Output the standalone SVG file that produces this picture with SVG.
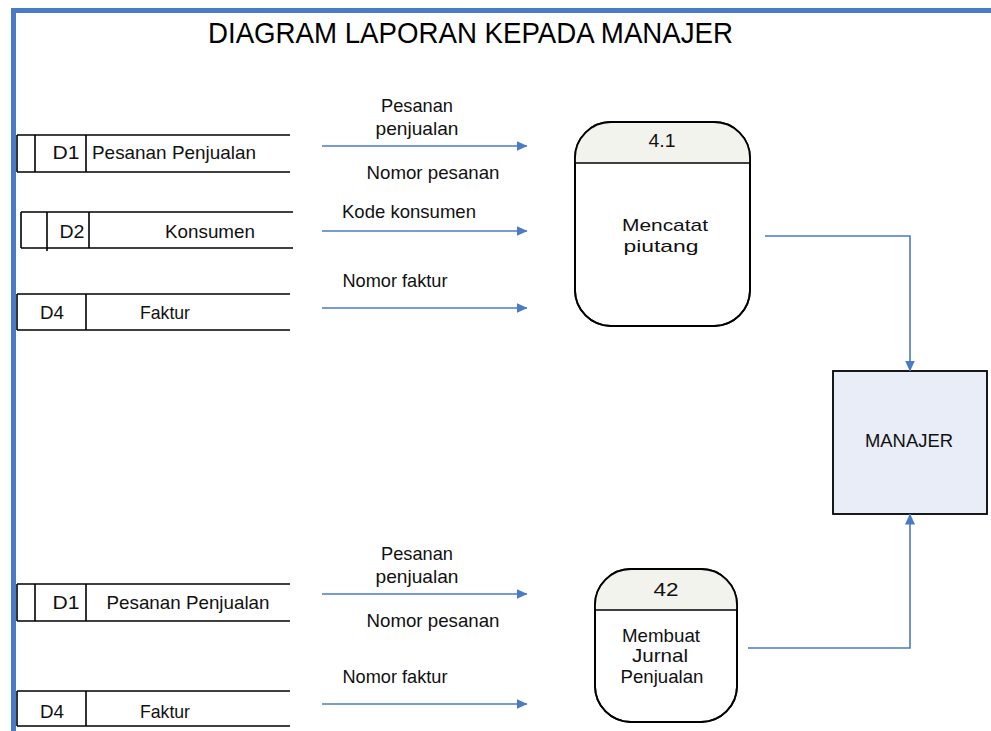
<svg xmlns="http://www.w3.org/2000/svg" width="991" height="731" viewBox="0 0 991 731">
  <style>
    .lbl { font-family: "Liberation Sans", Arial, sans-serif; font-size: 19px; fill: #111; }
    .sm { font-size: 17px; }
    .mid { text-anchor: middle; }
    .title { font-family: "Liberation Sans", Arial, sans-serif; font-size: 30px; fill: #000; }
    .store line { stroke: #000; stroke-width: 1.6; }
    .proc { fill: #fff; stroke: #000; stroke-width: 1.8; }
    .head { fill: #f3f3ee; }
    .flow { fill: none; stroke: #4a7bc6; stroke-width: 1.6; marker-end: url(#arrow); }
    .frame { fill: none; stroke: #4a7bc6; stroke-width: 5; }
  </style>
  <defs>
    <marker id="arrow" markerUnits="userSpaceOnUse" markerWidth="11" markerHeight="10" refX="10.5" refY="5" orient="auto">
      <path d="M0,0 L11,5 L0,10 Z" fill="#4a7bc6"/>
    </marker>
    <clipPath id="clip41"><rect x="575" y="122" width="175" height="204" rx="36" ry="36"/></clipPath>
    <clipPath id="clip42"><rect x="595" y="569" width="142" height="153" rx="36" ry="36"/></clipPath>
  </defs>

  <rect width="991" height="731" fill="#fff"/>

  <!-- page frame -->
  <path class="frame" d="M13.5,731 L13.5,10.5 L991,10.5"/>

  <text class="title" x="208" y="43" textLength="525" lengthAdjust="spacingAndGlyphs">DIAGRAM LAPORAN KEPADA MANAJER</text>

  <!-- data stores -->
  <g id="store-d1-a" class="store">
    <line x1="17" y1="135" x2="290" y2="135"/>
    <line x1="17" y1="172" x2="290" y2="172"/>
    <line x1="17" y1="135" x2="17" y2="172"/>
    <line x1="35" y1="135" x2="35" y2="172"/>
    <line x1="86" y1="135" x2="86" y2="172"/>
    <text class="lbl mid" x="66" y="159" textLength="27" lengthAdjust="spacingAndGlyphs">D1</text>
    <text class="lbl mid" x="174" y="159" textLength="164" lengthAdjust="spacingAndGlyphs">Pesanan Penjualan</text>
  </g>

  <g id="store-d2" class="store">
    <line x1="21" y1="212" x2="293" y2="212"/>
    <line x1="21" y1="248" x2="293" y2="248"/>
    <line x1="21" y1="212" x2="21" y2="248"/>
    <line x1="47" y1="212" x2="47" y2="251"/>
    <line x1="89" y1="212" x2="89" y2="248"/>
    <text class="lbl mid" x="72" y="238" textLength="25" lengthAdjust="spacingAndGlyphs">D2</text>
    <text class="lbl mid" x="210" y="238" textLength="90" lengthAdjust="spacingAndGlyphs">Konsumen</text>
  </g>

  <g id="store-d4-a" class="store">
    <line x1="17" y1="294" x2="290" y2="294"/>
    <line x1="17" y1="330" x2="290" y2="330"/>
    <line x1="17" y1="294" x2="17" y2="330"/>
    <line x1="86" y1="294" x2="86" y2="330"/>
    <text class="lbl mid" x="52" y="319" textLength="24" lengthAdjust="spacingAndGlyphs">D4</text>
    <text class="lbl mid" x="165" y="319" textLength="50" lengthAdjust="spacingAndGlyphs">Faktur</text>
  </g>

  <g id="store-d1-b" class="store">
    <line x1="17" y1="584" x2="290" y2="584"/>
    <line x1="17" y1="621" x2="290" y2="621"/>
    <line x1="17" y1="584" x2="17" y2="621"/>
    <line x1="35" y1="584" x2="35" y2="621"/>
    <line x1="86" y1="584" x2="86" y2="621"/>
    <text class="lbl mid" x="66" y="609" textLength="27" lengthAdjust="spacingAndGlyphs">D1</text>
    <text class="lbl mid" x="188" y="609" textLength="163" lengthAdjust="spacingAndGlyphs">Pesanan Penjualan</text>
  </g>

  <g id="store-d4-b" class="store">
    <line x1="17" y1="691" x2="290" y2="691"/>
    <line x1="17" y1="726" x2="290" y2="726"/>
    <line x1="17" y1="691" x2="17" y2="726"/>
    <line x1="86" y1="691" x2="86" y2="726"/>
    <text class="lbl mid" x="52" y="718" textLength="24" lengthAdjust="spacingAndGlyphs">D4</text>
    <text class="lbl mid" x="165" y="718" textLength="50" lengthAdjust="spacingAndGlyphs">Faktur</text>
  </g>

  <!-- processes -->
  <g id="proc-4-1">
    <rect class="proc" x="575" y="122" width="175" height="204" rx="36" ry="36"/>
    <rect class="head" x="575" y="122" width="175" height="41" clip-path="url(#clip41)"/>
    <rect x="575" y="122" width="175" height="204" rx="36" ry="36" fill="none" stroke="#000" stroke-width="1.8"/>
    <line x1="575" y1="163" x2="750" y2="163" stroke="#000" stroke-width="1.6"/>
    <text class="lbl mid" x="662" y="147" textLength="27" lengthAdjust="spacingAndGlyphs">4.1</text>
    <text class="lbl sm mid" x="665" y="231" textLength="86" lengthAdjust="spacingAndGlyphs">Mencatat</text>
    <text class="lbl sm mid" x="661" y="252" textLength="75" lengthAdjust="spacingAndGlyphs">piutang</text>
  </g>

  <g id="proc-4-2">
    <rect class="proc" x="595" y="569" width="142" height="153" rx="36" ry="36"/>
    <rect class="head" x="595" y="569" width="142" height="41" clip-path="url(#clip42)"/>
    <rect x="595" y="569" width="142" height="153" rx="36" ry="36" fill="none" stroke="#000" stroke-width="1.8"/>
    <line x1="595" y1="610" x2="737" y2="610" stroke="#000" stroke-width="1.6"/>
    <text class="lbl mid" x="666" y="596" textLength="25" lengthAdjust="spacingAndGlyphs">42</text>
    <text class="lbl mid" x="661" y="642" textLength="78" lengthAdjust="spacingAndGlyphs">Membuat</text>
    <text class="lbl mid" x="660" y="662" textLength="56" lengthAdjust="spacingAndGlyphs">Jurnal</text>
    <text class="lbl mid" x="662" y="683" textLength="83" lengthAdjust="spacingAndGlyphs">Penjualan</text>
  </g>

  <!-- external entity -->
  <g id="manajer">
    <rect x="833" y="371" width="154" height="143" fill="#e8edf7" stroke="#000" stroke-width="1.8"/>
    <text class="lbl mid" x="909" y="447" textLength="88" lengthAdjust="spacingAndGlyphs">MANAJER</text>
  </g>

  <!-- data flows -->
  <g id="connectors">
    <path class="flow" d="M322,146 L527,146"/>
    <path class="flow" d="M322,231 L527,231"/>
    <path class="flow" d="M322,308 L527,308"/>
    <path class="flow" d="M322,594 L527,594"/>
    <path class="flow" d="M322,704 L527,704"/>
    <path class="flow" d="M765,236 L910,236 L910,371"/>
    <path class="flow" d="M748,648 L910,648 L910,514"/>
  </g>

  <!-- flow labels -->
  <g id="flow-labels">
    <text class="lbl mid" x="417" y="112" textLength="72" lengthAdjust="spacingAndGlyphs">Pesanan</text>
    <text class="lbl mid" x="417" y="135" textLength="83" lengthAdjust="spacingAndGlyphs">penjualan</text>
    <text class="lbl mid" x="433" y="179" textLength="133" lengthAdjust="spacingAndGlyphs">Nomor pesanan</text>
    <text class="lbl mid" x="409" y="218" textLength="134" lengthAdjust="spacingAndGlyphs">Kode konsumen</text>
    <text class="lbl mid" x="395" y="287" textLength="105" lengthAdjust="spacingAndGlyphs">Nomor faktur</text>
    <text class="lbl mid" x="417" y="560" textLength="72" lengthAdjust="spacingAndGlyphs">Pesanan</text>
    <text class="lbl mid" x="417" y="583" textLength="83" lengthAdjust="spacingAndGlyphs">penjualan</text>
    <text class="lbl mid" x="433" y="627" textLength="133" lengthAdjust="spacingAndGlyphs">Nomor pesanan</text>
    <text class="lbl mid" x="395" y="683" textLength="105" lengthAdjust="spacingAndGlyphs">Nomor faktur</text>
  </g>
</svg>
